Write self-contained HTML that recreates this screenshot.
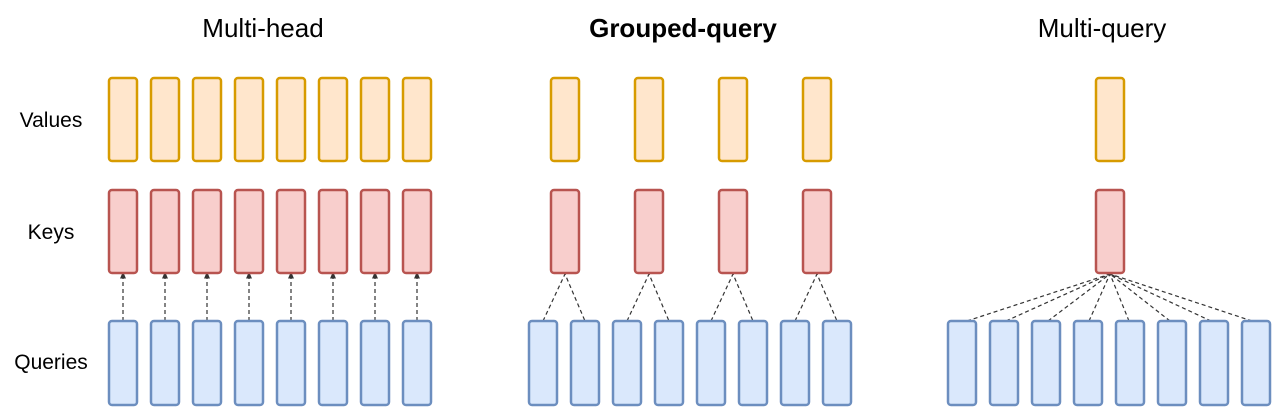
<!DOCTYPE html>
<html><head><style>body{margin:0;background:#fff}</style></head><body>
<svg width="1280" height="414" xmlns="http://www.w3.org/2000/svg" font-family="Liberation Sans, Arial, sans-serif">
<defs><marker id="a" markerWidth="6" markerHeight="6" refX="3" refY="3" orient="auto"><path d="M0,0.5 L6,3 L0,5.5 z" fill="#333"/></marker></defs>
<text x="263" y="37" font-size="26" text-anchor="middle">Multi-head</text>
<text x="683" y="37" font-size="26" font-weight="bold" text-anchor="middle">Grouped-query</text>
<text x="1102" y="37" font-size="26" text-anchor="middle">Multi-query</text>
<text x="51" y="127" font-size="21" text-anchor="middle">Values</text>
<text x="51" y="239" font-size="21" text-anchor="middle">Keys</text>
<text x="51" y="369" font-size="21" text-anchor="middle">Queries</text>
<g id="all" stroke-width="2.5">
<script>/**/</script>
</g>
<g stroke="#333" stroke-width="1.2" stroke-dasharray="4,3" fill="none">
<!-- multi-head -->
<path d="M123,321V275" marker-end="url(#a)"/><path d="M165,321V275" marker-end="url(#a)"/><path d="M207,321V275" marker-end="url(#a)"/><path d="M249,321V275" marker-end="url(#a)"/><path d="M291,321V275" marker-end="url(#a)"/><path d="M333,321V275" marker-end="url(#a)"/><path d="M375,321V275" marker-end="url(#a)"/><path d="M417,321V275" marker-end="url(#a)"/>
<!-- grouped -->
<path d="M543,321L565,274L585,321"/><path d="M627,321L649,274L669,321"/><path d="M711,321L733,274L753,321"/><path d="M795,321L817,274L837,321"/>
<!-- multi-query -->
<path d="M967,321L1110,274M1006,321L1110,274M1048,321L1110,274M1089,321L1110,274M1129,321L1110,274M1170,321L1110,274M1211,321L1110,274M1252,321L1110,274"/>
</g>
<g stroke-width="2.5">
<!-- values -->
<g fill="#ffe6cc" stroke="#d79b00">
<rect x="109" y="78" width="28" height="83" rx="3"/><rect x="151" y="78" width="28" height="83" rx="3"/><rect x="193" y="78" width="28" height="83" rx="3"/><rect x="235" y="78" width="28" height="83" rx="3"/><rect x="277" y="78" width="28" height="83" rx="3"/><rect x="319" y="78" width="28" height="83" rx="3"/><rect x="361" y="78" width="28" height="83" rx="3"/><rect x="403" y="78" width="28" height="83" rx="3"/>
<rect x="551" y="78" width="28" height="83" rx="3"/><rect x="635" y="78" width="28" height="83" rx="3"/><rect x="719" y="78" width="28" height="83" rx="3"/><rect x="803" y="78" width="28" height="83" rx="3"/>
<rect x="1096" y="78" width="28" height="83" rx="3"/>
</g>
<g fill="#f8cecc" stroke="#b85450">
<rect x="109" y="190" width="28" height="83" rx="3"/><rect x="151" y="190" width="28" height="83" rx="3"/><rect x="193" y="190" width="28" height="83" rx="3"/><rect x="235" y="190" width="28" height="83" rx="3"/><rect x="277" y="190" width="28" height="83" rx="3"/><rect x="319" y="190" width="28" height="83" rx="3"/><rect x="361" y="190" width="28" height="83" rx="3"/><rect x="403" y="190" width="28" height="83" rx="3"/>
<rect x="551" y="190" width="28" height="83" rx="3"/><rect x="635" y="190" width="28" height="83" rx="3"/><rect x="719" y="190" width="28" height="83" rx="3"/><rect x="803" y="190" width="28" height="83" rx="3"/>
<rect x="1096" y="190" width="28" height="83" rx="3"/>
</g>
<g fill="#dae8fc" stroke="#6c8ebf">
<rect x="109" y="321" width="28" height="84" rx="3"/><rect x="151" y="321" width="28" height="84" rx="3"/><rect x="193" y="321" width="28" height="84" rx="3"/><rect x="235" y="321" width="28" height="84" rx="3"/><rect x="277" y="321" width="28" height="84" rx="3"/><rect x="319" y="321" width="28" height="84" rx="3"/><rect x="361" y="321" width="28" height="84" rx="3"/><rect x="403" y="321" width="28" height="84" rx="3"/>
<rect x="529" y="321" width="28" height="84" rx="3"/><rect x="571" y="321" width="28" height="84" rx="3"/><rect x="613" y="321" width="28" height="84" rx="3"/><rect x="655" y="321" width="28" height="84" rx="3"/><rect x="697" y="321" width="28" height="84" rx="3"/><rect x="739" y="321" width="28" height="84" rx="3"/><rect x="781" y="321" width="28" height="84" rx="3"/><rect x="823" y="321" width="28" height="84" rx="3"/>
<rect x="948" y="321" width="28" height="84" rx="3"/><rect x="990" y="321" width="28" height="84" rx="3"/><rect x="1032" y="321" width="28" height="84" rx="3"/><rect x="1074" y="321" width="28" height="84" rx="3"/><rect x="1116" y="321" width="28" height="84" rx="3"/><rect x="1158" y="321" width="28" height="84" rx="3"/><rect x="1200" y="321" width="28" height="84" rx="3"/><rect x="1242" y="321" width="28" height="84" rx="3"/>
</g>
</g>
</svg>
</body></html>
